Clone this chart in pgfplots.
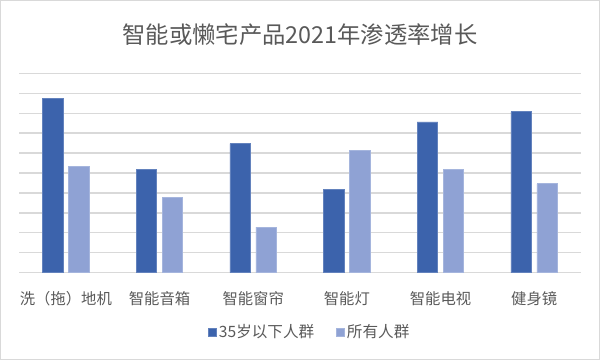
\documentclass[border=0pt]{standalone}
\usepackage{pgfplots}
\pgfplotsset{compat=1.18}
\usepackage{fontspec}
\setmainfont{Noto Sans CJK SC}
\definecolor{darkb}{RGB}{60,99,172}
\definecolor{lightb}{RGB}{143,162,212}
\definecolor{gridc}{RGB}{217,217,217}
\definecolor{txt}{RGB}{89,89,89}
\begin{document}
\begin{tikzpicture}
\useasboundingbox (0,0) rectangle (450pt,270pt);
\draw[gridc, line width=0.8pt] (0.6pt,0.6pt) rectangle (449.4pt,269.4pt);
\node[txt, font=\fontsize{17.5pt}{20pt}\selectfont] at (225pt,243.75pt) {智能或懒宅产品2021年渗透率增长};
\begin{axis}[
  at={(14.25pt,65.5pt)}, anchor=south west,
  scale only axis, width=421.5pt, height=149.5pt,
  ybar=4.1pt, bar width=15.4pt,
  xmin=-0.5, xmax=5.5, ymin=0, ymax=10,
  axis line style={draw=none},
  xtick={0,1,2,3,4,5},
  xticklabels={洗（拖）地机,智能音箱,智能窗帘,智能灯,智能电视,健身镜},
  ytick={0,1,2,3,4,5,6,7,8,9,10},
  yticklabels={},
  ymajorgrids, grid style={gridc, line width=1pt},
  major tick length=0pt,
  xticklabel style={anchor=center, yshift=-19.4pt, text=txt, font=\fontsize{11.5pt}{13pt}\selectfont},
  legend columns=2,
  legend style={draw=none, fill=none, at={(0.5175,-0.298)}, anchor=center,
    font=\fontsize{11.7pt}{13pt}\selectfont, text=txt,
    nodes={inner xsep=1.5pt},
    /tikz/every even column/.append style={column sep=15pt}},
  legend image code/.code={\fill[#1] (0pt,-3pt) rectangle (6pt,3pt);},
]
\addplot[fill=darkb, draw=darkb!80!white, line width=0.5pt] coordinates {(0,8.75) (1,5.17) (2,6.47) (3,4.16) (4,7.56) (5,8.07)};
\addplot[fill=lightb, draw=lightb!80!white, line width=0.5pt] coordinates {(0,5.35) (1,3.78) (2,2.29) (3,6.15) (4,5.17) (5,4.46)};
\legend{35岁以下人群,所有人群}
\end{axis}
\end{tikzpicture}
\end{document}
